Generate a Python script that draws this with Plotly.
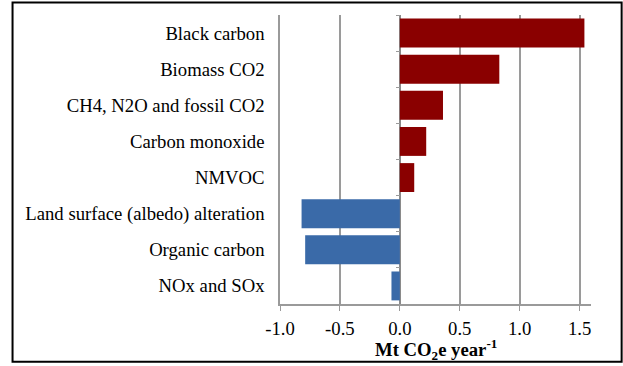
import plotly.graph_objects as go

categories = ["Black carbon", "Biomass CO2", "CH4, N2O and fossil CO2", "Carbon monoxide",
              "NMVOC", "Land surface (albedo) alteration", "Organic carbon", "NOx and SOx"]
values = [1.54, 0.83, 0.36, 0.22, 0.12, -0.82, -0.79, -0.07]
x_ticks = [-1.0, -0.5, 0.0, 0.5, 1.0, 1.5]
x_range = [-1.0, 1.595]

red = "#8a0000"
blue = "#3a6aa8"
colors = [red if v > 0 else blue for v in values]

FONT = "'Liberation Serif', 'Times New Roman', Times, serif"
FS = 18.7

fig = go.Figure()
fig.add_trace(go.Bar(
    y=categories, x=values, orientation="h",
    marker=dict(color=colors, line=dict(width=0)),
    width=0.8, showlegend=False,
))

# secondary y-axis drawn at x = 0 for the category boundary ticks
zero_pos = (0 - x_range[0]) / (x_range[1] - x_range[0])
fig.add_trace(go.Scatter(y=categories, x=[None] * len(categories), yaxis="y2",
                         showlegend=False, hoverinfo="skip"))

fig.update_layout(
    width=623, height=366,
    margin=dict(l=280, r=32, t=15, b=62),
    paper_bgcolor="white", plot_bgcolor="white",
    bargap=0.2,
    font=dict(family=FONT, size=FS, color="black"),
    xaxis=dict(
        range=x_range, tickvals=x_ticks, ticktext=[f"{t:.1f}" for t in x_ticks],
        showgrid=True, gridcolor="#9a9a9a", gridwidth=1.5,
        zeroline=True, zerolinecolor="#8a8a8a", zerolinewidth=1.5,
        showline=True, linecolor="#9a9a9a", linewidth=1.5,
        ticks="outside", ticklen=5, tickcolor="#9a9a9a",
        ticklabelstandoff=2,
        tickfont=dict(family=FONT, size=FS),
    ),
    yaxis=dict(
        categoryorder="array", categoryarray=categories, autorange="reversed",
        showgrid=False, zeroline=False,
        showline=True, linecolor="#9a9a9a", linewidth=1.5,
        ticks="", ticklabelstandoff=10,
        tickfont=dict(family=FONT, size=FS),
    ),
    yaxis2=dict(
        overlaying="y", anchor="free", position=zero_pos,
        categoryorder="array", categoryarray=categories, autorange="reversed",
        showticklabels=False, showgrid=False, zeroline=False,
        showline=False, ticks="outside", ticklen=4, tickcolor="#9a9a9a",
        tickson="boundaries",
    ),
    shapes=[dict(type="rect", xref="paper", yref="paper",
                 x0=-0.86, x1=1.0985, y0=-0.2, y1=1.043,
                 line=dict(color="black", width=2), fillcolor="rgba(0,0,0,0)")],
    annotations=[dict(
        text="<b>Mt CO<sub>2</sub>e year<sup>-1</sup></b>",
        xref="paper", yref="paper", x=0.5, y=0, yshift=-45,
        showarrow=False, xanchor="center", yanchor="middle",
        font=dict(family=FONT, size=FS, color="black"),
    )],
)

fig.write_html("out.html", config={"displayModeBar": False},
               post_script="document.body.style.margin='0';")
